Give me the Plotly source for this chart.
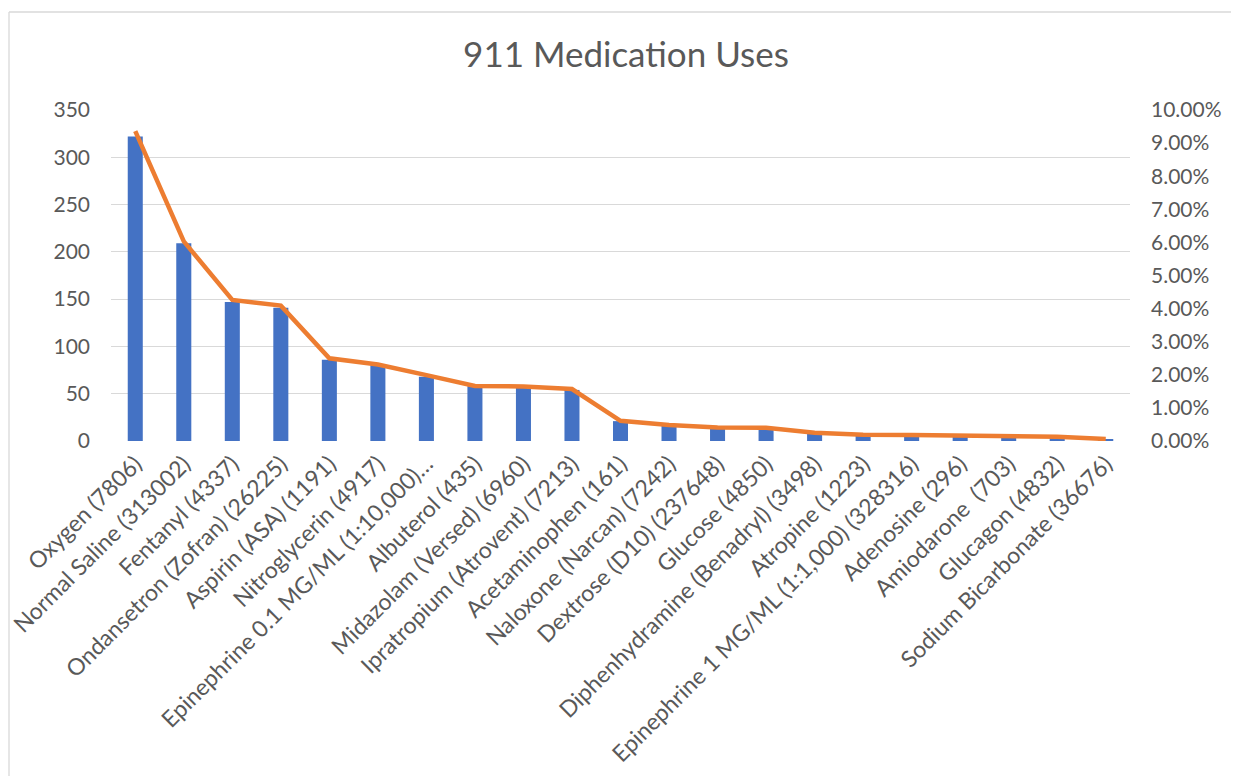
import plotly.graph_objects as go

categories = [
    "Oxygen (7806)", "Normal Saline (313002)", "Fentanyl (4337)", "Ondansetron (Zofran) (26225)",
    "Aspirin (ASA) (1191)", "Nitroglycerin (4917)", "Epinephrine 0.1 MG/ML (1:10,000)…",
    "Albuterol (435)", "Midazolam (Versed) (6960)", "Ipratropium (Atrovent) (7213)",
    "Acetaminophen (161)", "Naloxone (Narcan) (7242)", "Dextrose (D10) (237648)",
    "Glucose (4850)", "Diphenhydramine (Benadryl) (3498)", "Atropine (1223)",
    "Epinephrine 1 MG/ML (1:1,000) (328316)", "Adenosine (296)", "Amiodarone  (703)",
    "Glucagon (4832)", "Sodium Bicarbonate (36676)",
]
counts = [322, 209, 147, 141, 86, 80, 68, 58, 57, 54, 21, 16, 15, 14, 8, 6, 6, 5, 5, 4, 2]
percents = [0.0936, 0.0603, 0.0426, 0.0409, 0.0250, 0.0231, 0.0199, 0.0166, 0.0165, 0.0157,
            0.0061, 0.0048, 0.0041, 0.0040, 0.0025, 0.0019, 0.0018, 0.0016, 0.0014, 0.0013, 0.0006]
left_ticks = [0, 50, 100, 150, 200, 250, 300, 350]
right_ticks = [i / 100 for i in range(0, 11)]

FONT = "Lato"
GRAY = "#595959"

fig = go.Figure()
fig.add_trace(go.Bar(x=categories, y=counts, marker=dict(color="#4472C4", line=dict(width=0)),
                     name="Count", yaxis="y"))
fig.add_trace(go.Scatter(x=categories, y=percents, mode="lines", name="Percent",
                         line=dict(color="#ED7D31", width=4.5), yaxis="y2"))

# page has an 8px body margin; figure coordinates are page coordinates minus 8
W, H = 1239, 776
L, R, T, B = 103, 117, 102, 343
pw = W - L - R
ph = H - T - B

def px_x(x):
    return (x - L) / pw

def px_y(y):
    return (H - B - y) / ph

border = dict(color="#d9d9d9", width=1.3)

fig.update_layout(
    width=W, height=H,
    margin=dict(l=L, r=R, t=T, b=B, autoexpand=False),
    paper_bgcolor="white", plot_bgcolor="white",
    showlegend=False,
    bargap=0.69,
    title=dict(text="911 Medication Uses", x=(626 - 8) / W, xref="container", xanchor="center",
               y=1 - 47 / H, yanchor="middle",
               font=dict(family=FONT, size=35, color=GRAY)),
    font=dict(family=FONT, color=GRAY),
    xaxis=dict(tickangle=-45, tickfont=dict(family=FONT, size=23, color=GRAY),
               showgrid=False, showline=False, zeroline=False, ticks="",
               ticklabelstandoff=4, automargin=False),
    yaxis=dict(range=[0, 350], tickvals=left_ticks, tickfont=dict(family=FONT, size=21, color=GRAY),
               showgrid=True, gridcolor="#d9d9d9", gridwidth=1.3, zeroline=False,
               showline=False, ticks="", ticklabelstandoff=20, automargin=False),
    yaxis2=dict(range=[0, 0.1], tickvals=right_ticks, tickformat=".2%", overlaying="y", side="right",
                tickfont=dict(family=FONT, size=21, color=GRAY), showgrid=False,
                zeroline=False, showline=False, ticks="", ticklabelstandoff=20, automargin=False),
    shapes=[
        dict(type="line", xref="paper", yref="paper", x0=px_x(1), x1=px_x(W + 40),
             y0=px_y(4), y1=px_y(4), line=border, layer="below"),
        dict(type="line", xref="paper", yref="paper", x0=px_x(1), x1=px_x(1),
             y0=px_y(4), y1=px_y(H + 40), line=border, layer="below"),
    ],
)

fig.write_html("out.html")
